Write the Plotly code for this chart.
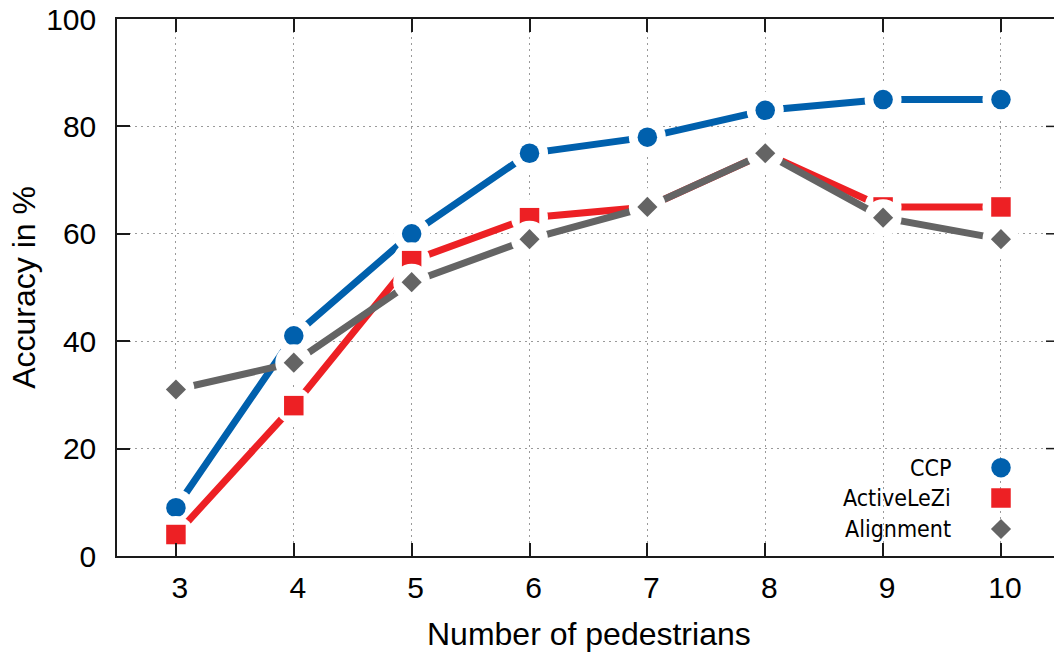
import plotly.graph_objects as go

# Number of pedestrians on the x axis
pedestrians = [3, 4, 5, 6, 7, 8, 9, 10]

# Accuracy (%) per method
ccp = [9, 41, 60, 75, 78, 83, 85, 85]
active_lezi = [4, 28, 55, 63, 65, 75, 65, 65]
alignment = [31, 36, 51, 59, 65, 75, 63, 59]

y_ticks = [0, 20, 40, 60, 80, 100]

series = [
    ("CCP", ccp, "#0060ad", "circle", 19.5),
    ("ActiveLeZi", active_lezi, "#ed2024", "square", 19.5),
    ("Alignment", alignment, "#646464", "diamond", 15.5),
]

W, H = 1054, 654
L, R, T, B = 117, 0, 19, 98
plot_w = W - L - R
plot_h = H - T - B
px_per_unit = 117.86  # horizontal pixels between consecutive x ticks
x_range = [2.5, 2.5 + plot_w / px_per_unit]

tick_font = dict(family="Liberation Sans, Arial, sans-serif", size=30, color="black")
title_font = dict(family="Liberation Sans, Arial, sans-serif", size=32, color="black")
axis_color = "#1a1a1a"

fig = go.Figure()

# Each series: line, then white halos that open gaps around points, then markers
for name, vals, color, symbol, size in series:
    fig.add_trace(go.Scatter(
        x=pedestrians, y=vals, mode="lines",
        line=dict(color=color, width=7),
        showlegend=False, hoverinfo="skip",
    ))
    fig.add_trace(go.Scatter(
        x=pedestrians, y=vals, mode="markers",
        marker=dict(symbol="circle", size=37, color="white", line=dict(width=0)),
        showlegend=False, hoverinfo="skip",
    ))
    fig.add_trace(go.Scatter(
        x=pedestrians, y=vals, mode="markers", name=name,
        marker=dict(symbol=symbol, size=size, color=color, line=dict(width=0)),
        showlegend=False,
    ))

# Legend keys on an overlay axis spanning the plot area in [0, 1]
legend_px_y = [467.7, 498.0, 529.0]
legend_key_x = (1001 - L) / plot_w
legend_text_x = (953 - L) / plot_w
for (name, vals, color, symbol, size), py in zip(series, legend_px_y):
    yy = (T + plot_h - py) / plot_h
    fig.add_trace(go.Scatter(
        x=[legend_key_x], y=[yy], mode="markers", xaxis="x2", yaxis="y2",
        marker=dict(symbol=symbol, size=size, color=color, line=dict(width=0)),
        showlegend=False, hoverinfo="skip",
    ))
    fig.add_annotation(
        text=name, xref="paper", yref="paper", x=legend_text_x, y=yy,
        xanchor="right", yanchor="middle", showarrow=False,
        font=dict(family="DejaVu Sans Condensed, DejaVu Sans, sans-serif", size=23, color="black"),
    )

# Axis titles
fig.add_annotation(
    text="Number of pedestrians", xref="paper", yref="paper",
    x=(588.5 - L) / plot_w, y=(T + plot_h - 633.5) / plot_h,
    xanchor="center", yanchor="middle", showarrow=False, font=title_font,
)
fig.add_annotation(
    text="Accuracy in %", xref="paper", yref="paper",
    x=(23.3 - L) / plot_w, y=0.5, textangle=-90,
    xanchor="center", yanchor="middle", showarrow=False, font=title_font,
)

# Inward ticks on the right border (border itself lies just past the page edge)
for yv in y_ticks[1:-1]:
    fig.add_shape(
        type="line", xref="paper", yref="y",
        x0=(1046 - L) / plot_w, x1=1.0, y0=yv, y1=yv,
        line=dict(color=axis_color, width=1.5),
    )

grid = dict(showgrid=True, gridcolor="#9a9a9a", gridwidth=1, griddash="2px,4px")

fig.update_layout(
    width=W, height=H,
    margin=dict(l=L, r=R, t=T, b=B, pad=0),
    paper_bgcolor="white", plot_bgcolor="white",
    showlegend=False,
    xaxis=dict(
        range=x_range, tickmode="array", tickvals=pedestrians,
        ticktext=[str(v) for v in pedestrians],
        ticks="inside", ticklen=13, tickwidth=1.5, tickcolor=axis_color,
        showline=True, linecolor=axis_color, linewidth=1.5, mirror="ticks",
        tickfont=tick_font, zeroline=False, ticklabelstandoff=4,
        ticklabelshift=4, **grid,
    ),
    yaxis=dict(
        range=[0, 100], tickmode="array", tickvals=y_ticks,
        ticks="inside", ticklen=13, tickwidth=1.5, tickcolor=axis_color,
        showline=True, linecolor=axis_color, linewidth=1.5, mirror=False,
        tickfont=tick_font, zeroline=False, ticklabelstandoff=13, **grid,
    ),
    xaxis2=dict(range=[0, 1], overlaying="x", visible=False, fixedrange=True),
    yaxis2=dict(range=[0, 1], overlaying="y", visible=False, fixedrange=True),
)

fig.write_html("out.html")
